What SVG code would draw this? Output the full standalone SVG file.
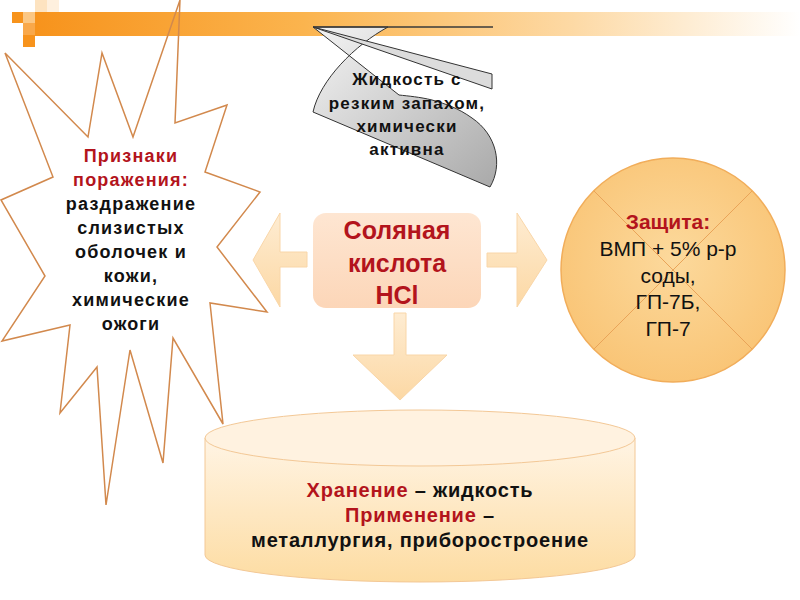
<svg xmlns="http://www.w3.org/2000/svg" width="800" height="600" viewBox="0 0 800 600">
<defs>
<linearGradient id="bar" x1="0" y1="0" x2="1" y2="0">
<stop offset="0" stop-color="#f7931c"/>
<stop offset="0.35" stop-color="#fbb44e"/>
<stop offset="0.7" stop-color="#fdd9a4"/>
<stop offset="1" stop-color="#ffffff"/>
</linearGradient>
<linearGradient id="gray" x1="0" y1="0" x2="1" y2="1">
<stop offset="0" stop-color="#f4f4f4"/>
<stop offset="1" stop-color="#a9a9a9"/>
</linearGradient>
<linearGradient id="arr" x1="0" y1="0" x2="0" y2="1">
<stop offset="0" stop-color="#feecd2"/>
<stop offset="1" stop-color="#fcd8a4"/>
</linearGradient>
<linearGradient id="box" x1="0" y1="0" x2="0" y2="1">
<stop offset="0" stop-color="#fee6d2"/>
<stop offset="1" stop-color="#fcd6b8"/>
</linearGradient>
<radialGradient id="circ" cx="0.5" cy="0.45" r="0.6">
<stop offset="0" stop-color="#fcd99c"/>
<stop offset="1" stop-color="#f9c373"/>
</radialGradient>
<linearGradient id="cyl" x1="0" y1="0" x2="0" y2="1">
<stop offset="0" stop-color="#fff4e4"/>
<stop offset="1" stop-color="#fddca2"/>
</linearGradient>
<style>
.t{font-family:"Liberation Sans",Arial,sans-serif;text-anchor:middle}
.b{font-weight:bold}
.red{fill:#b3141c}
.blk{fill:#111}
.arrow{fill:url(#arr);stroke:#f9d6a8;stroke-width:1}
</style>
</defs>
<rect width="800" height="600" fill="#fff"/>
<g id="topbar">
<rect x="35" y="12" width="765" height="24" fill="url(#bar)"/>
<rect x="12" y="12" width="11" height="11" fill="#f7931c"/>
<rect x="23" y="12" width="12" height="11" fill="#fbc784"/>
<rect x="23" y="23" width="12" height="12" fill="#f9a84a"/>
<rect x="23" y="35" width="12" height="12" fill="#f7931c"/>
<rect x="35" y="0" width="12" height="12" fill="#fde3c0"/>
<rect x="47" y="0" width="12" height="12" fill="#fef0de"/>
</g>
<g id="symptoms">
<polygon points="180,0 175,123 227,105 205,172 260,192 217,247 267,312 210,303 223,424 173,338 163,463 130,350 106,505 97,367 60,413 70,325 2,341 45,276 1,200 53,177 5,53 88,137 102,53 133,137" fill="none" stroke="#d2894d" stroke-width="1.5" stroke-linejoin="miter"/>
<text class="t b" font-size="18" letter-spacing="1.2"><tspan class="red" x="131" y="162">Признаки</tspan><tspan class="red" x="131" y="186">поражения:</tspan><tspan class="blk" x="131" y="210">раздражение</tspan><tspan class="blk" x="131" y="234">слизистых</tspan><tspan class="blk" x="131" y="258">оболочек и</tspan><tspan class="blk" x="131" y="282">кожи,</tspan><tspan class="blk" x="131" y="306">химические</tspan><tspan class="blk" x="131" y="330">ожоги</tspan></text>
</g>
<g id="liquid">
<path d="M388,27 C355,45 320,80 313,112 L490,187 C503,165 497,135 472,118 C458,108 446,104 432,100 C420,97 408,96 399,95 L313,27 Z" fill="url(#gray)" stroke="#333" stroke-width="1"/>
<polygon points="313,27 492,74 492,89" fill="#dcdcdc" stroke="#333" stroke-width="1"/>
<line x1="313" y1="27" x2="493" y2="27" stroke="#3a3a3a" stroke-width="1.5"/>
<text class="t b blk" font-size="17" letter-spacing="1.2"><tspan x="407" y="85">Жидкость с</tspan><tspan x="407" y="109">резким запахом,</tspan><tspan x="407" y="132">химически</tspan><tspan x="407" y="155">активна</tspan></text>
</g>
<g id="connectors">
<polygon class="arrow" points="253,260 280,213 280,252 307,252 307,267 280,267 280,307"/>
<polygon class="arrow" points="547,260 517,213 517,253 487,253 487,267 517,267 517,307"/>
<polygon class="arrow" points="394,313 406,313 406,355 447,355 400,400 353,355 394,355"/>
</g>
<g id="acid">
<rect x="313" y="213" width="168" height="95" rx="13" fill="url(#box)"/>
<text class="t b red" font-size="25"><tspan x="397" y="239">Соляная</tspan><tspan x="397" y="272">кислота</tspan><tspan x="397" y="304">HCl</tspan></text>
</g>
<g id="protection">
<circle cx="673" cy="270" r="112" fill="url(#circ)" stroke="#f1ad5a" stroke-width="1.5"/>
<line x1="594" y1="191" x2="752" y2="349" stroke="#e9a459" stroke-width="1"/>
<line x1="752" y1="191" x2="594" y2="349" stroke="#e9a459" stroke-width="1"/>
<text class="t" font-size="21"><tspan class="b red" x="668" y="229">Защита:</tspan><tspan class="blk" x="668" y="256">ВМП + 5% р-р</tspan><tspan class="blk" x="668" y="283">соды,</tspan><tspan class="blk" x="668" y="309">ГП-7Б,</tspan><tspan class="blk" x="668" y="336">ГП-7</tspan></text>
</g>
<g id="storage">
<path d="M205,438 L205,555 A215,27 0 0 0 635,555 L635,438 Z" fill="url(#cyl)" stroke="#f3c896" stroke-width="1"/>
<ellipse cx="420" cy="438" rx="215" ry="28" fill="#fff2e0" stroke="#f3c896" stroke-width="1"/>
<text class="t b" font-size="20" letter-spacing="0.8"><tspan x="420" y="497"><tspan class="red">Хранение </tspan><tspan class="blk"> – жидкость</tspan></tspan><tspan x="420" y="522"><tspan class="red">Применение</tspan><tspan class="blk"> –</tspan></tspan><tspan class="blk" x="420" y="547">металлургия, приборостроение</tspan></text>
</g>
</svg>
